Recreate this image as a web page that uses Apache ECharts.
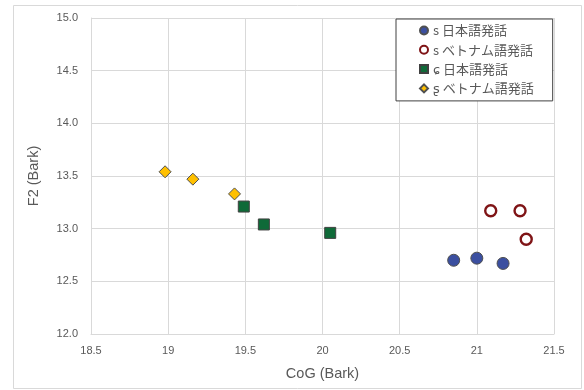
<!DOCTYPE html>
<html><head><meta charset="utf-8">
<script src="https://cdn.jsdelivr.net/npm/echarts@6/dist/echarts.min.js"></script>
<style>html,body{margin:0;padding:0;background:#fff}#c{width:584px;height:390px}</style>
</head><body><div id="c"></div>
<script>
const seriesNames = ['s 日本語発話', 's ベトナム語発話', 'ɕ 日本語発話', 'ʂ ベトナム語発話'];
const sJaX = [20.85, 21.00, 21.17];
const sJaY = [12.70, 12.72, 12.67];
const sViX = [21.09, 21.28, 21.32];
const sViY = [13.17, 13.17, 12.90];
const cJaX = [19.49, 19.62, 20.05];
const cJaY = [13.21, 13.04, 12.96];
const rViX = [18.98, 19.16, 19.43];
const rViY = [13.54, 13.47, 13.33];
const xTicks = [18.5, 19, 19.5, 20, 20.5, 21, 21.5];
const yTicks = [12.0, 12.5, 13.0, 13.5, 14.0, 14.5, 15.0];

const pair = (xs, ys) => xs.map((x, i) => [x, ys[i]]);
const font = '"Liberation Sans", "Noto Sans CJK JP", sans-serif';
const cjk = '"Noto Sans CJK JP", "DejaVu Sans", sans-serif';

const chart = echarts.init(document.getElementById('c'), null, {renderer: 'canvas'});
chart.setOption({
  animation: false,
  backgroundColor: '#fff',
  graphic: [{
    type: 'rect', left: 13, top: 5, z: -1,
    shape: {width: 568, height: 383},
    style: {fill: '#fff', stroke: '#d9d9d9', lineWidth: 1}
  }],
  grid: {left: 91, right: 30, top: 18, bottom: 56, containLabel: false},
  xAxis: {
    type: 'value', min: xTicks[0], max: xTicks[xTicks.length - 1], interval: 0.5,
    name: 'CoG (Bark)', nameLocation: 'middle', nameGap: 33,
    nameTextStyle: {fontFamily: font, fontSize: 14.5, color: '#595959'},
    axisLine: {show: true, lineStyle: {color: '#d9d9d9'}},
    axisTick: {show: false},
    splitLine: {show: true, lineStyle: {color: '#d9d9d9'}},
    axisLabel: {fontFamily: font, fontSize: 11, color: '#595959', margin: 11,
      formatter: v => String(v)}
  },
  yAxis: {
    type: 'value', min: yTicks[0], max: yTicks[yTicks.length - 1], interval: 0.5,
    name: 'F2 (Bark)', nameLocation: 'middle', nameGap: 50,
    nameTextStyle: {fontFamily: font, fontSize: 14.5, color: '#595959'},
    axisLine: {show: true, lineStyle: {color: '#d9d9d9'}},
    axisTick: {show: false},
    splitLine: {show: true, lineStyle: {color: '#d9d9d9'}},
    axisLabel: {fontFamily: font, fontSize: 11, color: '#595959', margin: 13,
      formatter: v => v.toFixed(1)}
  },
  legend: {
    orient: 'vertical', left: 396, top: 19,
    padding: [5, 19, 6, 23], itemGap: 6.3,
    itemWidth: 8, itemHeight: 8,
    borderColor: '#404040', borderWidth: 1, backgroundColor: '#fff',
    textStyle: {fontFamily: cjk, fontSize: 13, color: '#595959'},
    data: [
      {name: seriesNames[0], icon: 'circle'},
      {name: seriesNames[1], icon: 'circle'},
      {name: seriesNames[2], icon: 'rect'},
      {name: seriesNames[3], icon: 'diamond'}
    ]
  },
  series: [
    {name: seriesNames[0], type: 'scatter', data: pair(sJaX, sJaY), symbol: 'circle', symbolSize: 12,
      itemStyle: {color: '#3b4fa0', borderColor: '#505050', borderWidth: 1, opacity: 1}},
    {name: seriesNames[1], type: 'scatter', data: pair(sViX, sViY), symbol: 'circle', symbolSize: 11,
      itemStyle: {color: '#ffffff', borderColor: '#7f1416', borderWidth: 2.4, opacity: 1}},
    {name: seriesNames[2], type: 'scatter', data: pair(cJaX, cJaY), symbol: 'rect', symbolSize: 11,
      itemStyle: {color: '#0f6a38', borderColor: '#404040', borderWidth: 1, opacity: 1}},
    {name: seriesNames[3], type: 'scatter', data: pair(rViX, rViY), symbol: 'diamond', symbolSize: 12,
      itemStyle: {color: '#ffc000', borderColor: '#505050', borderWidth: 1, opacity: 1}}
  ]
});
</script></body></html>
